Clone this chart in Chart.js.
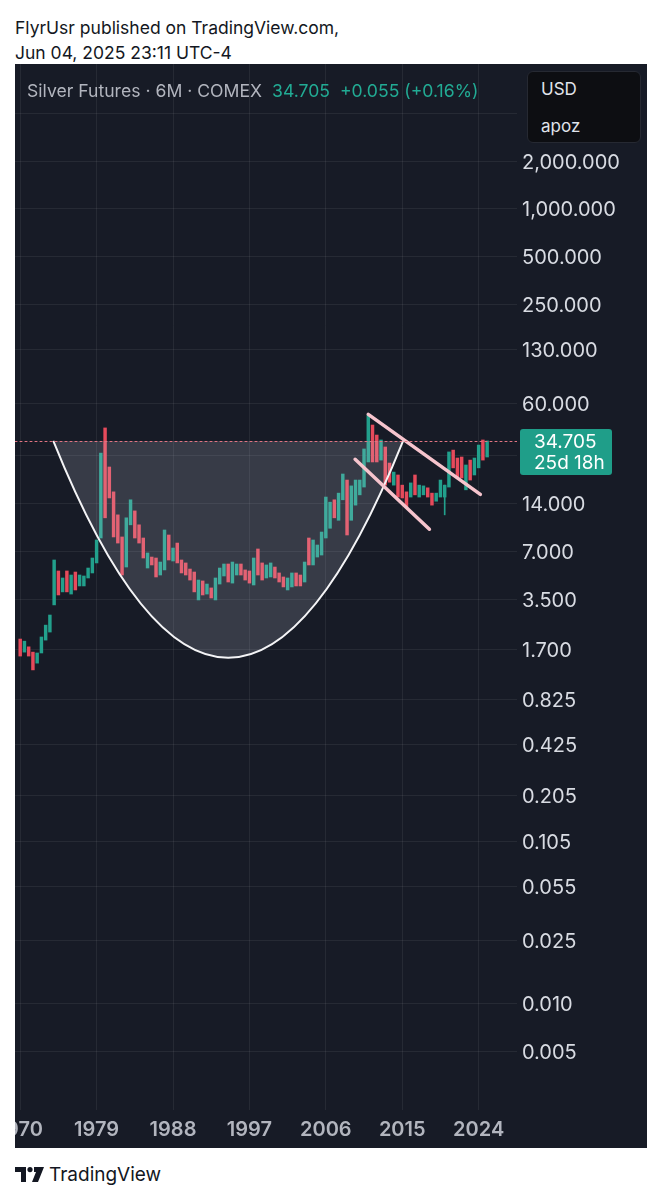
<!DOCTYPE html>
<html>
<head>
<meta charset="utf-8">
<title>Silver Futures 6M</title>
<script src="https://cdn.jsdelivr.net/npm/chart.js@4.4.1/dist/chart.umd.min.js"></script>
<style>
    body { margin: 0; background: #ffffff; width: 662px; height: 1200px; position: relative; font-family: Inter, "Noto Sans", sans-serif; overflow: hidden; }
    .hdr { position: absolute; left: 15px; font-size: 17.5px; line-height: 25px; color: #131722; }
    #panel { position: absolute; left: 15px; top: 64px; width: 632px; height: 1084px; background: #171b26; }
    #growthChart { position: absolute; left: 0; top: 0; }
    #legend { position: absolute; left: 12px; top: 16px; font-size: 17.6px; line-height: 22px; color: #b2b5be; white-space: nowrap; }
    #legend .val { color: #22ab94; margin-left: 10px; }
    #unitBox { position: absolute; left: 512px; top: 7px; width: 112px; height: 70px; background: #0d0e12; border: 1px solid #262932; border-radius: 6px; }
    #unitBox div { position: absolute; left: 13px; font-size: 17px; color: #e0e3eb; }
    #footer { position: absolute; left: 15px; top: 1162px; height: 24px; display: flex; align-items: center; }
    #footer span { font-size: 19px; color: #131722; margin-left: 5px; }
</style>
</head>
<body>
<div class="hdr" style="top:15px">FlyrUsr published on TradingView.com,</div>
<div class="hdr" style="top:40px">Jun 04, 2025 23:11 UTC-4</div>

<div id="panel">
    <canvas id="growthChart" width="632" height="1084"></canvas>
    <div id="legend">Silver Futures · 6M · COMEX<span class="val">34.705</span><span class="val">+0.055 (+0.16%)</span></div>
    <div id="unitBox"><div style="top:7px">USD</div><div style="top:44px">apoz</div></div>
</div>

<div id="footer">
    <svg width="29" height="15" viewBox="0 0 29 15">
        <path d="M0 0h11v15h-5v-10h-6z" fill="#131722"/>
        <circle cx="15" cy="2.6" r="2.6" fill="#131722"/>
        <path d="M19 0h10l-6 15h-6l4-10h-2z" fill="#131722"/>
    </svg>
    <span>TradingView</span>
</div>

<script>
// half-year candle open times
const periods = [
    1970.0, 1970.5, 1971.0, 1971.5, 1972.0, 1972.5, 1973.0, 1973.5, 1974.0, 1974.5,
    1975.0, 1975.5, 1976.0, 1976.5, 1977.0, 1977.5, 1978.0, 1978.5, 1979.0, 1979.5,
    1980.0, 1980.5, 1981.0, 1981.5, 1982.0, 1982.5, 1983.0, 1983.5, 1984.0, 1984.5,
    1985.0, 1985.5, 1986.0, 1986.5, 1987.0, 1987.5, 1988.0, 1988.5, 1989.0, 1989.5,
    1990.0, 1990.5, 1991.0, 1991.5, 1992.0, 1992.5, 1993.0, 1993.5, 1994.0, 1994.5,
    1995.0, 1995.5, 1996.0, 1996.5, 1997.0, 1997.5, 1998.0, 1998.5, 1999.0, 1999.5,
    2000.0, 2000.5, 2001.0, 2001.5, 2002.0, 2002.5, 2003.0, 2003.5, 2004.0, 2004.5,
    2005.0, 2005.5, 2006.0, 2006.5, 2007.0, 2007.5, 2008.0, 2008.5, 2009.0, 2009.5,
    2010.0, 2010.5, 2011.0, 2011.5, 2012.0, 2012.5, 2013.0, 2013.5, 2014.0, 2014.5,
    2015.0, 2015.5, 2016.0, 2016.5, 2017.0, 2017.5, 2018.0, 2018.5, 2019.0, 2019.5,
    2020.0, 2020.5, 2021.0, 2021.5, 2022.0, 2022.5, 2023.0, 2023.5, 2024.0, 2024.5,
    2025.0
];
const openPrices = [
    1.97, 1.63, 1.76, 1.63, 1.39, 1.61, 1.94, 2.18, 3.23, 5.28,
    3.90, 5.28, 3.78, 5.20, 4.25, 4.25, 4.77, 5.13, 5.93, 8.51,
    41.9, 23.8, 16.6, 11.9, 8.64, 5.59, 10.3, 12.6, 10.3, 8.51,
    5.51, 6.46, 6.37, 4.98, 5.36, 8.89, 6.10, 7.91, 6.19, 5.93,
    5.43, 5.20, 3.47, 4.57, 3.78, 4.13, 3.47, 4.37, 4.91, 5.84,
    4.43, 4.98, 5.84, 5.36, 5.28, 4.31, 7.26, 5.93, 4.77, 4.84,
    5.59, 5.13, 4.84, 4.01, 4.19, 5.13, 4.98, 4.50, 8.51, 5.76,
    6.46, 6.65, 8.51, 9.80, 14.8, 11.0, 14.8, 19.7, 11.0, 13.7,
    15.9, 17.8, 25.6, 43.7, 37.8, 26.3, 31.8, 25.2, 18.3, 21.2,
    18.3, 16.6, 15.4, 21.2, 15.4, 15.9, 17.6, 16.3, 14.5, 15.4,
    15.4, 17.8, 30.4, 27.1, 27.5, 17.1, 26.3, 21.2, 23.5, 35.2,
    27.5
];
const closePrices = [
    1.54, 1.91, 1.54, 1.26, 1.61, 2.03, 2.41, 2.79, 6.19, 3.73,
    4.77, 3.90, 4.98, 4.01, 4.98, 4.91, 5.51, 6.37, 8.27, 29.1,
    11.4, 15.2, 8.64, 7.91, 4.98, 11.4, 14.8, 8.51, 7.91, 6.37,
    6.85, 5.76, 4.84, 6.01, 9.56, 6.19, 7.36, 5.93, 5.13, 4.98,
    4.63, 3.90, 4.63, 3.73, 4.37, 3.57, 4.77, 5.51, 5.84, 4.50,
    6.01, 5.84, 4.98, 4.63, 4.43, 6.37, 4.98, 4.63, 5.76, 5.93,
    4.77, 4.50, 4.19, 4.77, 5.13, 4.25, 4.25, 6.01, 5.76, 8.27,
    7.69, 9.28, 15.4, 14.3, 11.4, 16.3, 21.5, 8.89, 18.1, 19.7,
    19.7, 30.9, 50.5, 25.6, 25.6, 35.2, 18.3, 19.1, 22.1, 15.4,
    15.2, 13.3, 18.9, 15.9, 18.3, 18.1, 15.4, 13.7, 16.3, 19.7,
    18.3, 29.6, 23.5, 20.6, 20.3, 24.5, 19.7, 27.1, 32.7, 26.3,
    34.705
];
// visible wicks: [time, low, high]
const wicks = [[2020.0, 11.9, 18.3]];

const yearTicks = [1970, 1979, 1988, 1997, 2006, 2015, 2024];
const priceTicks = [4000, 2000, 1000, 500, 250, 130, 60, 28, 14, 7, 3.5, 1.7, 0.825, 0.425, 0.205, 0.105, 0.055, 0.025, 0.010, 0.005];
const hiddenPriceLabels = [4000, 28]; // grid line only, label sits under a box

// drawings on the chart
const cupTimes = [1973.9, 1994.5, 2015.1];
const cupPrices = [34.705, 1.5, 34.705];
const upperLineTimes = [2011.0, 2024.2];
const upperLinePrices = [51.0, 16.0];
const lowerLineTimes = [2009.45, 2018.2];
const lowerLinePrices = [26.6, 9.66];
const lastPrice = 34.705;
const countdown = '25d 18h';

const upColor = '#22a08c';
const downColor = '#e64a5b';
const gridColor = 'rgba(255,255,255,0.065)';

Chart.defaults.font.family = 'Inter, "Noto Sans", sans-serif';

const overlay = {
    id: 'overlay',
    afterDatasetsDraw: function(chart) {
        const c = chart.ctx, a = chart.chartArea;
        const xs = chart.scales.x, ys = chart.scales.y;
        c.save();
        c.beginPath();
        c.rect(a.left, a.top, a.right - a.left, a.bottom - a.top);
        c.clip();

        // cup: parabola through the rims and the bottom
        const x0 = xs.getPixelForValue(cupTimes[0]), y0 = ys.getPixelForValue(cupPrices[0]);
        const xm = xs.getPixelForValue(cupTimes[1]), ym = ys.getPixelForValue(cupPrices[1]);
        const x2 = xs.getPixelForValue(cupTimes[2]), y2 = ys.getPixelForValue(cupPrices[2]);
        const cy = 2 * ym - (y0 + y2) / 2;
        c.beginPath();
        c.moveTo(x0, y0);
        c.quadraticCurveTo(xm, cy, x2, y2);
        c.closePath();
        c.fillStyle = 'rgba(215,220,235,0.17)';
        c.fill();
        c.beginPath();
        c.moveTo(x0, y0);
        c.quadraticCurveTo(xm, cy, x2, y2);
        c.strokeStyle = '#f4f4f6';
        c.lineWidth = 2;
        c.stroke();

        // channel
        c.strokeStyle = '#f6c4cd';
        c.lineWidth = 3.5;
        c.lineCap = 'round';
        [[upperLineTimes, upperLinePrices], [lowerLineTimes, lowerLinePrices]].forEach(function(l) {
            c.beginPath();
            c.moveTo(xs.getPixelForValue(l[0][0]), ys.getPixelForValue(l[1][0]));
            c.lineTo(xs.getPixelForValue(l[0][1]), ys.getPixelForValue(l[1][1]));
            c.stroke();
        });

        // last price dotted line
        const py = Math.round(ys.getPixelForValue(lastPrice)) + 0.5;
        c.setLineDash([2, 3]);
        c.lineWidth = 1;
        c.strokeStyle = '#e07482';
        c.beginPath();
        c.moveTo(a.left, py);
        c.lineTo(a.right, py);
        c.stroke();
        c.restore();

        // price label on the axis
        c.save();
        c.fillStyle = '#1f9e89';
        c.beginPath();
        c.roundRect(a.right + 3, py - 12.5, 92, 46, 3);
        c.fill();
        c.fillStyle = '#ffffff';
        c.font = '19px Inter, "Noto Sans", sans-serif';
        c.textBaseline = 'middle';
        c.fillText(lastPrice.toFixed(3), a.right + 17, py + 1);
        c.fillText(countdown, a.right + 17, py + 22);
        c.restore();
    }
};

const ctx = document.getElementById('growthChart').getContext('2d');
const silverChart = new Chart(ctx, {
    type: 'bar',
    data: {
        datasets: [{
            label: 'wick',
            data: wicks.map(function(w) { return { x: w[0], y: [w[1], w[2]] }; }),
            backgroundColor: upColor,
            barThickness: 1,
            grouped: false
        }, {
            label: 'Silver Futures',
            data: periods.map(function(t, i) { return { x: t, y: [openPrices[i], closePrices[i]] }; }),
            backgroundColor: periods.map(function(t, i) { return closePrices[i] >= openPrices[i] ? upColor : downColor; }),
            barThickness: 2.8,
            minBarLength: 2,
            grouped: false
        }]
    },
    options: {
        responsive: false,
        animation: false,
        events: [],
        layout: { padding: 0 },
        plugins: { legend: { display: false }, tooltip: { enabled: false } },
        scales: {
            x: {
                type: 'linear',
                min: 1969.389,
                max: 2028.517,
                offset: false,
                grid: { color: gridColor, drawTicks: false, offset: false },
                border: { display: false },
                ticks: {
                    color: '#b2b5be',
                    font: { size: 20, weight: '600' },
                    padding: 8,
                    maxRotation: 0,
                    autoSkip: false,
                    callback: function(v) { return String(v); }
                },
                afterBuildTicks: function(s) { s.ticks = yearTicks.map(function(v) { return { value: v }; }); },
                afterFit: function(s) { s.height = 38; s.paddingLeft = 0; s.paddingRight = 0; }
            },
            y: {
                type: 'logarithmic',
                position: 'right',
                min: 0.0021502,
                max: 8149.6,
                grid: { color: gridColor, drawTicks: false },
                border: { display: false },
                ticks: {
                    color: '#d8dbe2',
                    font: { size: 20 },
                    padding: 5,
                    labelOffset: 1.5,
                    autoSkip: false,
                    callback: function(v) {
                        if (hiddenPriceLabels.indexOf(v) !== -1) return '';
                        return v.toLocaleString('en-US', { minimumFractionDigits: 3, maximumFractionDigits: 3 });
                    }
                },
                afterBuildTicks: function(s) { s.ticks = priceTicks.map(function(v) { return { value: v }; }); },
                afterFit: function(s) { s.width = 130; s.paddingTop = 0; s.paddingBottom = 0; }
            }
        }
    },
    plugins: [overlay]
});
</script>
</body>
</html>
